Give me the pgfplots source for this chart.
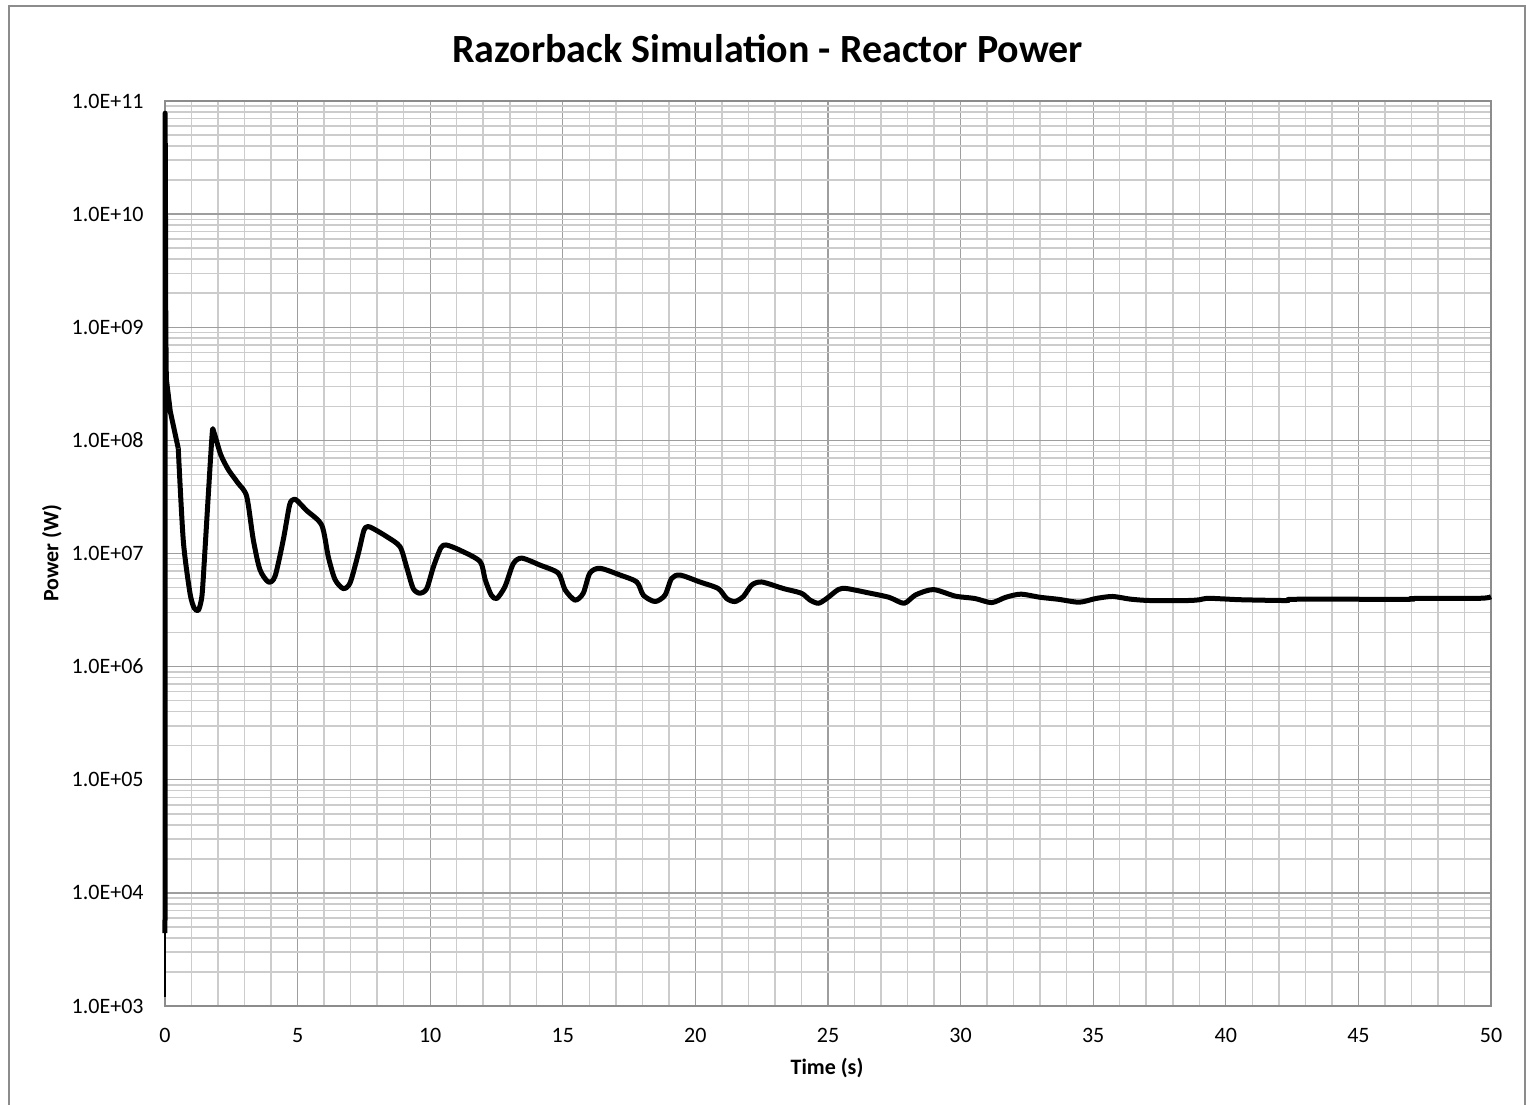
\documentclass[border=0pt]{standalone}
\usepackage{fontspec}
\setmainfont{Carlito}
\usepackage{pgfplots}
\pgfplotsset{compat=1.18}
\definecolor{gridmajor}{gray}{0.62}
\definecolor{gridminor}{gray}{0.80}
\definecolor{chartframe}{gray}{0.55}
\begin{document}
\begin{tikzpicture}
\useasboundingbox (-82.5pt,-49pt) rectangle (680.5pt,503pt);
% chart area border
\draw[chartframe, line width=0.75pt] (-78pt,-52pt) -- (-78pt,500pt) -- (680pt,500pt) -- (680pt,-52pt);
\begin{axis}[
  at={(0pt,0pt)}, anchor=south west,
  scale only axis, width=663pt, height=452.5pt,
  xmin=0, xmax=50,
  ymode=log, ymin=1e3, ymax=1e11,
  xtick={0,5,...,50},
  xticklabels={0,5,10,15,20,25,30,35,40,45,50},
  minor xtick={1,2,3,4,6,7,8,9,11,12,13,14,16,17,18,19,21,22,23,24,26,27,28,29,31,32,33,34,36,37,38,39,41,42,43,44,46,47,48,49},
  ytick={1e3,1e4,1e5,1e6,1e7,1e8,1e9,1e10,1e11},
  yticklabels={1.0E+03,1.0E+04,1.0E+05,1.0E+06,1.0E+07,1.0E+08,1.0E+09,1.0E+10,1.0E+11},
  minor ytick={2e3,3e3,4e3,5e3,6e3,7e3,8e3,9e3,
               2e4,3e4,4e4,5e4,6e4,7e4,8e4,9e4,
               2e5,3e5,4e5,5e5,6e5,7e5,8e5,9e5,
               2e6,3e6,4e6,5e6,6e6,7e6,8e6,9e6,
               2e7,3e7,4e7,5e7,6e7,7e7,8e7,9e7,
               2e8,3e8,4e8,5e8,6e8,7e8,8e8,9e8,
               2e9,3e9,4e9,5e9,6e9,7e9,8e9,9e9,
               2e10,3e10,4e10,5e10,6e10,7e10,8e10,9e10},
  grid=both,
  major grid style={gridmajor, line width=0.65pt},
  minor grid style={gridminor, line width=0.75pt},
  major tick length=0pt, minor tick length=0pt,
  axis line style={chartframe, line width=0.75pt},
  tick label style={font=\fontsize{11}{13}\selectfont, inner sep=0pt},
  xticklabel style={anchor=base, yshift=-18pt},
  yticklabel style={anchor=east, xshift=-10.5pt},
  clip=false,
]
% initial spike
\addplot[black, line width=1.2pt] coordinates {(0,1.2e3) (0,4.4e3)};
\addplot[black, line width=2.5pt, line join=round] coordinates {
(0,4.4e3) (0.004,7.8e10) (0.008,4.4e10) (0.012,4.0e10) (0.03,1.0e9) (0.05,3.5e8)
(0.2,1.8e8) (0.5,8.5e7)};
\addplot[black, line width=2.5pt, line join=round, smooth, tension=0.45] coordinates {
(0.5,8.5e7) (0.69,1.3e7) (0.94,4.5e6) (1.1,3.3e6) (1.26,3.15e6)
(1.38,4.0e6) (1.44,5.9e6) (1.63,3.2e7) (1.78,1.15e8) (1.84,1.19e8) (2.1,7.5e7)
(2.39,5.5e7) (2.75,4.2e7) (3.08,3.2e7) (3.33,1.32e7) (3.58,7.2e6) (3.9,5.6e6)
(4.15,6.3e6) (4.46,1.32e7) (4.7,2.7e7) (4.85,3.0e7) (4.97,2.95e7) (5.34,2.4e7)
(5.91,1.78e7) (6.16,9.3e6) (6.41,5.9e6) (6.72,4.9e6) (6.98,5.5e6) (7.29,1.0e7)
(7.5,1.6e7) (7.65,1.73e7) (7.85,1.66e7) (8.36,1.41e7) (8.86,1.15e7) (9.11,7.6e6)
(9.36,4.9e6) (9.62,4.45e6) (9.87,4.9e6) (10.12,7.6e6) (10.4,1.12e7) (10.6,1.19e7)
(11.12,1.07e7) (11.88,8.5e6) (12.07,5.9e6) (12.3,4.3e6) (12.51,4.0e6) (12.82,5.1e6)
(13.13,8.1e6) (13.45,9.1e6) (14.14,7.9e6) (14.83,6.7e6) (15.08,4.8e6) (15.46,3.87e6)
(15.77,4.45e6) (16.02,6.7e6) (16.4,7.4e6) (17.16,6.45e6) (17.79,5.6e6) (18.04,4.27e6)
(18.48,3.76e6) (18.85,4.27e6) (19.1,6.0e6) (19.42,6.45e6) (20.17,5.6e6) (20.86,4.9e6)
(21.18,4.0e6) (21.49,3.76e6) (21.81,4.17e6) (22.12,5.25e6) (22.5,5.6e6) (23.32,4.9e6)
(24.0,4.45e6) (24.32,3.88e6) (24.64,3.63e6) (24.95,4.0e6) (25.39,4.8e6) (25.7,4.9e6)
(26.5,4.5e6) (27.3,4.1e6) (27.87,3.63e6) (28.3,4.3e6) (28.97,4.8e6) (29.8,4.2e6)
(30.54,4.0e6) (31.17,3.68e6) (31.7,4.1e6) (32.27,4.37e6) (33.0,4.1e6) (33.68,3.94e6)
(34.47,3.71e6) (35.1,4.0e6) (35.73,4.17e6) (36.4,3.95e6) (37.14,3.84e6) (38.56,3.84e6)
(39.0,3.9e6) (39.3,4.02e6) (39.8,3.98e6) (40.6,3.9e6) (42.3,3.84e6) (42.6,3.94e6)
(46.9,3.94e6) (47.04,4.0e6) (49.6,4.02e6) (50,4.15e6)
};
\end{axis}
\node[anchor=base, font=\bfseries\fontsize{20}{24}\selectfont] at (301.25pt,471.5pt) {Razorback Simulation - Reactor Power};
\node[rotate=90, font=\bfseries\fontsize{11}{13}\selectfont] at (-56.5pt,226.25pt) {Power (W)};
\node[font=\bfseries\fontsize{11}{13}\selectfont] at (331pt,-31pt) {Time (s)};
\end{tikzpicture}
\end{document}
